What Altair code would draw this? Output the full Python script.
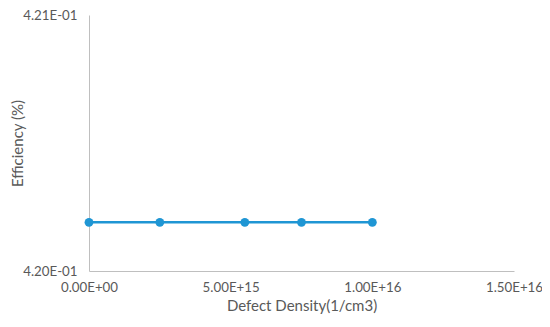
import altair as alt
import pandas as pd

defect_density = [0.0, 2.5e15, 5.5e15, 7.5e15, 1.0e16]
efficiency = [0.42019, 0.42019, 0.42019, 0.42019, 0.42019]
x_ticks = [0.0, 5e15, 1e16, 1.5e16]
y_ticks = [0.420, 0.421]

df = pd.DataFrame({"x": defect_density, "y": efficiency})

def sci(field="datum.value"):
    s = f"format({field},'.2e')"
    m = f"split({s},'e')[0]"
    e = f"split({s},'e')[1]"
    return f"{m} + 'E' + slice({e},0,1) + (length({e}) < 3 ? '0' : '') + slice({e},1)"

font = "Lato"
label_color = "#595959"
axis_color = "#bfbfbf"
blue = "#1f96d4"

W, H = 425, 256

x = alt.X("x:Q", scale=alt.Scale(domain=[0, 1.5e16], nice=False, zero=False),
          axis=alt.Axis(values=x_ticks, labelExpr=sci(), title="Defect Density(1/cm3)",
                        grid=False, ticks=False, domainColor=axis_color, domainWidth=1,
                        labelColor=label_color, labelFont=font, labelFontSize=13.3,
                        labelPadding=9, titleColor=label_color, titleFont=font,
                        titleFontSize=15, titleFontWeight="normal", titlePadding=5,
                        labelFlush=False))
y = alt.Y("y:Q", scale=alt.Scale(domain=[0.420, 0.421], nice=False, zero=False),
          axis=alt.Axis(values=y_ticks, labelExpr=sci(), title="Efficiency (%)",
                        grid=False, ticks=False, domainColor=axis_color, domainWidth=1,
                        labelColor=label_color, labelFont=font, labelFontSize=13.3,
                        labelBaseline="middle",
                        labelPadding=12, titleColor=label_color, titleFont=font,
                        titleFontSize=15, titleFontWeight="normal",
                        titleX=-72, titleY=H / 2, titleAngle=270, titleAlign="center",
                        titleBaseline="middle",
                        labelFlush=False))

line = alt.Chart(df).mark_line(color=blue, strokeWidth=2.5).encode(x=x, y=y)
pts = alt.Chart(df).mark_point(color=blue, filled=True, opacity=1, size=78).encode(x=x, y=y)

chart = (line + pts).properties(
    width=W, height=H,
    autosize=alt.AutoSizeParams(type="none"),
    padding={"left": 81, "top": 7, "right": 28, "bottom": 46},
).configure_view(stroke=None)

chart.save("out.html", embed_options={"renderer": "svg", "actions": False})
